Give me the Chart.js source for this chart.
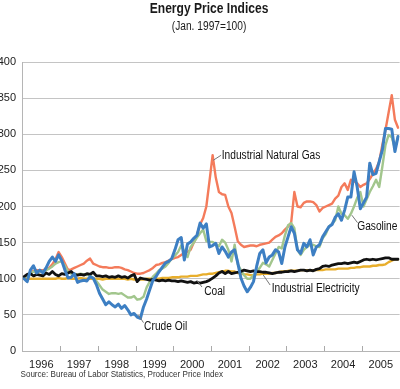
<!DOCTYPE html>
<html>
<head>
<meta charset="utf-8">
<script src="https://cdn.jsdelivr.net/npm/chart.js@4.4.0/dist/chart.umd.min.js"></script>
<style>
  html, body { margin: 0; padding: 0; background: #fff; }
  #wrap { width: 400px; height: 389px; }
</style>
</head>
<body>
<div id="wrap"><canvas id="myChart" width="400" height="389"></canvas></div>
<script>
// monthly index values, Jan 1996 .. Dec 2005 (Jan. 1997 = 100)
const years = ["1996","1997","1998","1999","2000","2001","2002","2003","2004","2005"];

const crudeOil = [100,96,112,118,108,112,108,115,124,130,124,133,125,112,101,102,107,95,97,98,
  97,103,101,92,80,72,64,68,64,61,65,59,63,57,50,52,47,45,61,72,
  85,98,103,110,116,122,124,128,140,154,157,126,148,151,156,160,177,170,176,144,
  146,149,135,144,138,130,137,140,122,101,90,82,88,96,117,135,140,122,130,133,
  140,137,121,144,158,172,163,140,135,149,144,154,133,144,147,158,165,172,175,185,
  190,181,195,213,213,248,227,197,205,213,260,244,246,262,278,308,308,307,276,297];

const natGas = [101,105,108,111,112,112,112,113,115,120,127,137,130,121,112,113,115,117,119,121,
  125,128,121,119,117,116,116,115,115,116,116,115,113,112,110,108,107,107,108,110,
  112,115,119,120,122,123,125,127,129,130,133,135,137,140,150,160,175,184,200,235,
  271,240,220,217,216,200,191,172,152,147,144,145,146,146,145,147,148,149,150,154,
  158,160,163,168,172,178,220,200,199,205,207,207,206,202,193,198,200,202,204,211,
  215,227,232,223,237,235,232,227,230,232,238,245,252,262,285,306,330,354,320,309];

const gasoline = [102,104,107,110,109,110,110,112,114,117,121,123,124,118,110,107,106,106,107,106,
  105,105,100,97,91,85,82,79,80,80,79,80,77,74,74,76,71,72,75,88,
  96,103,107,112,114,117,122,128,132,137,146,138,130,144,150,157,163,168,152,151,
  151,148,145,154,150,140,124,147,120,112,105,100,100,105,110,115,122,120,117,126,
  135,144,142,160,174,177,170,140,133,140,144,147,147,145,144,156,162,172,176,181,
  200,190,188,183,190,200,212,220,200,210,220,228,237,227,255,285,299,296,280,297];

const coal = [103,106,107,104,106,105,104,108,106,110,106,104,107,106,108,110,106,105,106,105,
  107,106,109,104,104,103,104,102,103,102,104,102,103,101,104,106,96,101,100,99,
  98,99,98,97,98,97,98,97,97,96,97,96,95,96,94,95,94,95,96,98,
  101,104,108,110,107,110,107,108,109,110,112,111,110,111,110,110,109,109,108,107,
  108,109,109,110,110,111,110,111,112,112,111,112,111,113,114,117,118,117,119,120,
  121,121,122,121,122,123,122,124,126,127,126,127,126,127,128,129,129,127,127,127];

const electricity = [100,100,100,100,100,100,100,100,100,100,100,101,100,100,101,100,100,100,101,100,
  100,100,100,100,100,99,100,100,100,100,100,100,100,99,100,99,99,99,99,100,
  100,100,100,100,101,101,101,102,102,102,103,103,103,104,104,104,105,106,106,107,
  107,108,109,110,111,111,110,110,108,107,106,106,105,105,106,106,107,107,107,108,
  108,109,110,110,111,111,111,111,112,112,112,112,112,112,112,112,113,113,113,113,
  114,114,114,114,115,115,116,116,117,117,117,118,118,119,119,120,123,125,127,127];

const FONT = "'Liberation Sans', Arial, sans-serif";
const SQUEEZE = 0.85; // the original uses a condensed face

function pts(arr) {
  return arr.map((v, i) => ({ x: i + 0.5, y: v }));
}

// label text, leader from (x1,y1) to (x2,y2), text at (tx,ty) -- data units
const notes = [
  { text: "Industrial Natural Gas", x1: 60.7, y1: 264, x2: 63.2, y2: 271, tx: 63.4, ty: 271 },
  { text: "Gasoline", x1: 104.8, y1: 188, x2: 106.6, y2: 177.6, tx: 106.5, ty: 171.6 },
  { text: "Crude Oil", x1: 36.9, y1: 49.8, x2: 38.5, y2: 39.2, tx: 38.7, ty: 33.6 },
  { text: "Coal", x1: 55.4, y1: 98.3, x2: 57.1, y2: 88.6, tx: 57.8, ty: 82.4 },
  { text: "Industrial Electricity", x1: 76.6, y1: 105.2, x2: 78.8, y2: 91.3, tx: 79.3, ty: 85.8 }
];

function squeezedText(ctx, txt, x, y) {
  ctx.save();
  ctx.translate(x, y);
  ctx.scale(SQUEEZE, 1);
  ctx.fillText(txt, 0, 0);
  ctx.restore();
}

const extras = {
  id: 'extras',
  afterDraw(chart) {
    const ctx = chart.ctx;
    const xs = chart.scales.x, ys = chart.scales.y;
    const a = chart.chartArea;
    ctx.save();
    // year tick marks
    ctx.strokeStyle = '#aaa';
    ctx.lineWidth = 1;
    for (let k = 1; k < years.length; k++) {
      const px = Math.round(xs.getPixelForValue(12 * k)) + 0.5;
      ctx.beginPath();
      ctx.moveTo(px, a.bottom);
      ctx.lineTo(px, a.bottom - 5);
      ctx.stroke();
    }
    // annotations
    ctx.strokeStyle = '#777';
    ctx.fillStyle = '#111';
    ctx.font = "12px " + FONT;
    ctx.textBaseline = 'middle';
    ctx.textAlign = 'left';
    notes.forEach(n => {
      ctx.beginPath();
      ctx.moveTo(xs.getPixelForValue(n.x1), ys.getPixelForValue(n.y1));
      ctx.lineTo(xs.getPixelForValue(n.x2), ys.getPixelForValue(n.y2));
      ctx.stroke();
      squeezedText(ctx, n.text, xs.getPixelForValue(n.tx), ys.getPixelForValue(n.ty));
    });
    // titles
    const cx = (a.left + a.right) / 2 - 2;
    ctx.textAlign = 'center';
    ctx.fillStyle = '#1a1a1a';
    ctx.font = "bold 14.2px " + FONT;
    squeezedText(ctx, "Energy Price Indices", cx, 9.5);
    ctx.font = "12px " + FONT;
    squeezedText(ctx, "(Jan. 1997=100)", cx, 26.5);
    // source
    ctx.textAlign = 'left';
    ctx.font = "9.5px " + FONT;
    ctx.fillStyle = '#333';
    squeezedText(ctx, "Source: Bureau of Labor Statistics, Producer Price Index", 20.5, 374);
    ctx.restore();
  }
};

const ctx = document.getElementById("myChart").getContext("2d");
const chart = new Chart(ctx, {
  type: "line",
  data: {
    datasets: [
      { label: "Crude Oil", data: pts(crudeOil), borderColor: "#3d7fc3", borderWidth: 3, order: 1 },
      { label: "Coal", data: pts(coal), borderColor: "#111111", borderWidth: 2.8, order: 2 },
      { label: "Gasoline", data: pts(gasoline), borderColor: "#a2c68d", borderWidth: 2.4, order: 3 },
      { label: "Industrial Natural Gas", data: pts(natGas), borderColor: "#f47b5b", borderWidth: 2.4, order: 4 },
      { label: "Industrial Electricity", data: pts(electricity), borderColor: "#e8ae2c", borderWidth: 2.4, order: 5 }
    ]
  },
  options: {
    responsive: false,
    animation: false,
    layout: { padding: { top: 62, right: 0, bottom: 18, left: 0 } },
    elements: {
      point: { radius: 0 },
      line: { tension: 0, borderJoinStyle: 'round', borderCapStyle: 'round' }
    },
    plugins: {
      legend: { display: false },
      tooltip: { enabled: false }
    },
    scales: {
      x: {
        type: 'linear',
        min: 0,
        max: 120,
        afterBuildTicks(scale) {
          scale.ticks = years.map((y, i) => ({ value: 6 + 12 * i }));
        },
        afterFit(scale) { scale.height = 20; },
        ticks: {
          autoSkip: false,
          maxRotation: 0,
          padding: 7,
          color: '#222',
          font: { family: FONT, size: 11 },
          callback: (v) => years[Math.round((v - 6) / 12)]
        },
        grid: { display: false, drawTicks: false },
        border: { display: true, color: '#b5b5b5', width: 1 }
      },
      y: {
        min: 0,
        max: 400,
        afterFit(scale) { scale.width = 22.5; },
        ticks: {
          autoSkip: false,
          stepSize: 50,
          padding: 6.5,
          color: '#222',
          font: { family: FONT, size: 11 }
        },
        grid: { color: '#c4c4c4', lineWidth: 1, drawTicks: false },
        border: { display: true, color: '#b5b5b5', width: 1 }
      }
    }
  },
  plugins: [extras]
});
</script>
</body>
</html>
